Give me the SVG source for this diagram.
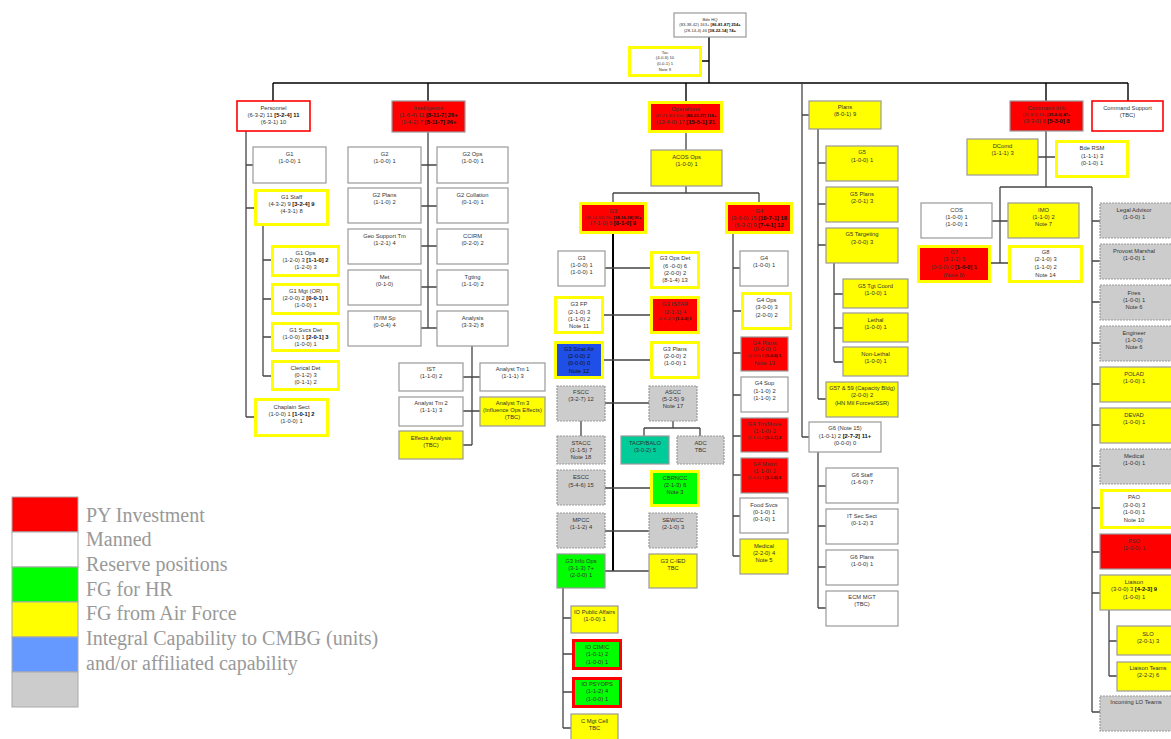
<svg xmlns="http://www.w3.org/2000/svg" width="1171" height="739" viewBox="0 0 1171 739">
<style>
text{font-family:"Liberation Sans",Arial,sans-serif;font-size:5.8px;fill:#333;text-anchor:middle}
.t{font-size:4.2px}
.k{font-weight:bold;fill:#111}
.wg{fill:#fff;stroke:#999;stroke-width:1.2}
.yg{fill:#ff0;stroke:#999;stroke-width:1.2}
.wy{fill:#fff;stroke:#ff0;stroke-width:3}
.ry{fill:#f00;stroke:#ff0;stroke-width:3}
.rg{fill:#f00;stroke:#999;stroke-width:1.2}
.wr{fill:#fff;stroke:#f00;stroke-width:1.6}
.gd{fill:#ccc;stroke:#999;stroke-width:1.2;stroke-dasharray:2 1}
.gy{fill:#0f0;stroke:#ff0;stroke-width:3}
.gg{fill:#0f0;stroke:#999;stroke-width:1.2}
.gr{fill:#0f0;stroke:#f00;stroke-width:3}
.by{fill:#1f4fe6;stroke:#ff0;stroke-width:3}
.tg{fill:#00cc99;stroke:#999;stroke-width:1.2}
.c path{stroke:#444;stroke-width:1.3;fill:none}
.c path.th{stroke:#000;stroke-width:2}
.c path.bar{stroke:#000;stroke-width:1.4}
.sw{stroke:#aaa;stroke-width:1}
.leg{font-family:"Liberation Serif","Times New Roman",serif;font-size:20px;fill:#999;text-anchor:start}
</style>

<!-- connectors -->
<g class="c" id="connectors">
<path class="bar" d="M709 37V83M702 61H709M273 83H1128M273 83V101M428 83V101M686 83V101M1046 83V101M1128 83V101"/>
<path d="M802 83V437"/>
<!-- personnel -->
<path d="M246 131V417M246 165H253M246 208H254M246 417H254M263 226V376M263 260H271M263 299H271M263 337H271M263 376H271"/>
<!-- intelligence -->
<path d="M428 132V328M421 165H437M421 206H437M421 246H437M421 287H437M421 328H437M472 346V445M463 377H480M463 411H480M463 445H472"/>
<!-- operations -->
<path d="M686 133V150M686 186V193M613 193H759M613 193V202M759 193V202"/>
<path class="th" d="M613 234V571"/>
<path d="M605 268H650M604 315H650M604 360H650M605 403H649M605 488H650M605 531H649M605 571H649"/>
<path d="M581 421V436M673 421V428M644 428H700M644 428V436M700 428V436"/>
<path d="M563 588V728M563 618H571M563 654H572M563 692H572M563 728H571"/>
<path d="M733 234V556M733 268H740M733 311H741M733 353H741M733 395H741M733 436H741M733 475H741M733 516H740M733 556H740"/>
<!-- plans / G6 -->
<path d="M802 115H809M802 437H809M818 129V399M818 163H826M818 204H826M818 245H826M818 399H826M834 263V362M834 294H843M834 328H843M834 362H843M818 452V608M818 486H826M818 526H826M818 567H826M818 608H826"/>
<!-- command info -->
<path d="M1046 131V187M1038 157H1055M1000 187H1092M1000 187V263M992 221H1008M991 263H1008M1092 187V712M1092 221H1100M1092 261H1100M1092 302H1100M1092 343H1100M1092 384H1100M1092 425H1100M1092 466H1100M1092 508H1100M1092 552H1100M1092 593H1100M1092 712H1100M1109 610V676M1109 641H1117M1109 676H1117"/>
</g>

<!-- top -->
<g id="bde-hq"><rect class="wg" x="674" y="13" width="72" height="24"/>
<text class="t" x="710" y="20.5">Bde HQ</text>
<text class="t" x="710" y="26">(83-38-42) 163+ <tspan class="k">[86-81-87] 254+</tspan></text>
<text class="t" x="710" y="31.5">(28-14-4) 46 <tspan class="k">[38-22-14] 74+</tspan></text></g>
<g id="tac"><rect class="wy" x="629.5" y="47.5" width="71" height="28"/>
<text class="t" x="665" y="53.5">Tac</text><text class="t" x="665" y="59">(4-0-6) 10</text><text class="t" x="665" y="64.5">(0-0-1) 1</text><text class="t" x="665" y="71">Note 9</text></g>

<!-- personnel -->
<g id="personnel"><rect class="wr" x="237" y="101" width="73" height="30"/>
<text x="273.5" y="110">Personnel</text><text x="273.5" y="117">(6-3-2) 11 <tspan class="k">[5-2-4] 11</tspan></text><text x="273.5" y="124">(6-3-1) 10</text></g>
<g id="g1"><rect class="wg" x="253" y="147" width="73" height="36"/>
<text x="289.5" y="156">G1</text><text x="289.5" y="163">(1-0-0) 1</text></g>
<g id="g1-staff"><rect class="wy" x="255.5" y="190.5" width="72" height="34"/>
<text x="291.5" y="199">G1 Staff</text><text x="291.5" y="206">(4-3-2) 9 <tspan class="k">[3-2-4] 9</tspan></text><text x="291.5" y="213">(4-3-1) 8</text></g>
<g id="g1-ops"><rect class="wy" x="272.5" y="246.5" width="66" height="29"/>
<text x="305.5" y="255">G1 Ops</text><text x="305.5" y="262">(1-2-0) 3 <tspan class="k">[1-1-0] 2</tspan></text><text x="305.5" y="269">(1-2-0) 3</text></g>
<g id="g1-mgt"><rect class="wy" x="272.5" y="284.5" width="66" height="29"/>
<text x="305.5" y="293">G1 Mgt (OR)</text><text x="305.5" y="300">(2-0-0) 2 <tspan class="k">[0-0-1] 1</tspan></text><text x="305.5" y="307">(1-0-0) 1</text></g>
<g id="g1-svcs"><rect class="wy" x="272.5" y="323.5" width="66" height="27"/>
<text x="305.5" y="332">G1 Svcs Det</text><text x="305.5" y="339">(1-0-0) 1 <tspan class="k">[2-0-1] 3</tspan></text><text x="305.5" y="346">(1-0-0) 1</text></g>
<g id="clerical"><rect class="wy" x="272.5" y="361.5" width="66" height="28"/>
<text x="305.5" y="370">Clerical Det</text><text x="305.5" y="377">(0-1-2) 3</text><text x="305.5" y="384">(0-1-1) 2</text></g>
<g id="chaplain"><rect class="wy" x="255.5" y="399.5" width="72" height="36"/>
<text x="291.5" y="409">Chaplain Sect</text><text x="291.5" y="416">(1-0-0) 1 <tspan class="k">[1-0-1] 2</tspan></text><text x="291.5" y="423">(1-0-0) 1</text></g>

<!-- intelligence -->
<g id="intelligence"><rect class="rg" x="392" y="101" width="73" height="31"/>
<text x="428.5" y="110">Intelligence</text><text x="428.5" y="117">(1-6-4) 11 <tspan class="k">[8-11-7] 26+</tspan></text><text x="428.5" y="124">(1-4-2) 7 <tspan class="k">[8-11-7] 26+</tspan></text></g>
<g id="g2"><rect class="wg" x="348" y="147" width="73" height="36"/><text x="384.5" y="156">G2</text><text x="384.5" y="163">(1-0-0) 1</text></g>
<g id="g2-ops"><rect class="wg" x="437" y="147" width="71" height="36"/><text x="472.5" y="156">G2 Ops</text><text x="472.5" y="163">(1-0-0) 1</text></g>
<g id="g2-plans"><rect class="wg" x="348" y="188" width="73" height="35"/><text x="384.5" y="197">G2 Plans</text><text x="384.5" y="204">(1-1-0) 2</text></g>
<g id="g2-collation"><rect class="wg" x="437" y="188" width="71" height="35"/><text x="472.5" y="197">G2 Collation</text><text x="472.5" y="204">(0-1-0) 1</text></g>
<g id="geo"><rect class="wg" x="348" y="229" width="73" height="35"/><text x="384.5" y="238">Geo Support Tm</text><text x="384.5" y="245">(1-2-1) 4</text></g>
<g id="ccirm"><rect class="wg" x="437" y="229" width="71" height="35"/><text x="472.5" y="238">CCIRM</text><text x="472.5" y="245">(0-2-0) 2</text></g>
<g id="met"><rect class="wg" x="348" y="270" width="73" height="35"/><text x="384.5" y="279">Met</text><text x="384.5" y="286">(0-1-0)</text></g>
<g id="tgting"><rect class="wg" x="437" y="270" width="71" height="35"/><text x="472.5" y="279">Tgting</text><text x="472.5" y="286">(1-1-0) 2</text></g>
<g id="itim"><rect class="wg" x="348" y="311" width="73" height="35"/><text x="384.5" y="320">IT/IM Sp</text><text x="384.5" y="327">(0-0-4) 4</text></g>
<g id="analysis"><rect class="wg" x="437" y="311" width="71" height="35"/><text x="472.5" y="320">Analysis</text><text x="472.5" y="327">(3-3-2) 8</text></g>
<g id="ist"><rect class="wg" x="399" y="363" width="64" height="28"/><text x="431" y="371">IST</text><text x="431" y="378">(1-1-0) 2</text></g>
<g id="analyst-tm1"><rect class="wg" x="480" y="363" width="65" height="28"/><text x="512.5" y="371">Analyst Tm 1</text><text x="512.5" y="378">(1-1-1) 3</text></g>
<g id="analyst-tm2"><rect class="wg" x="399" y="397" width="64" height="29"/><text x="431" y="405">Analyst Tm 2</text><text x="431" y="412">(1-1-1) 3</text></g>
<g id="analyst-tm3"><rect class="yg" x="480" y="397" width="65" height="29"/><text x="512.5" y="405">Analyst Tm 3</text><text x="512.5" y="412">(Influence Ops Effects)</text><text x="512.5" y="419">(TBC)</text></g>
<g id="effects"><rect class="yg" x="399" y="431" width="64" height="28"/><text x="431" y="440">Effects Analysis</text><text x="431" y="447">(TBC)</text></g>

<!-- operations -->
<g id="operations"><rect class="ry" x="649.5" y="102.5" width="72" height="29"/>
<text x="685.5" y="111">Operations</text><text class="t" x="685.5" y="116.5">(47-21-30) 100+ <tspan class="k">[80-23-37] 119+</tspan></text><text x="685.5" y="124">(13-4-0) 17 <tspan class="k">[15-5-1] 21</tspan></text></g>
<g id="acos-ops"><rect class="yg" x="651" y="150" width="71" height="36"/><text x="686.5" y="159">ACOS Ops</text><text x="686.5" y="166">(1-0-0) 1</text></g>
<g id="g3-branch"><rect class="ry" x="580.5" y="203.5" width="65" height="29"/>
<text x="613" y="213">G3</text><text class="t" x="613" y="218.5">(32-14-30) 76+ <tspan class="k">[38-16-38] 91+</tspan></text><text x="613" y="225">(7-1-0) 8 <tspan class="k">[8-1-0] 9</tspan></text></g>
<g id="g4-branch"><rect class="ry" x="726.5" y="203.5" width="65" height="29"/>
<text x="759" y="213">G4</text><text x="759" y="220">(9-6-0) 15 <tspan class="k">[10-7-1] 18</tspan></text><text x="759" y="227">(6-3-0) 9 <tspan class="k">[7-4-1] 12</tspan></text></g>

<g id="g3"><rect class="wg" x="558" y="251" width="47" height="35"/><text x="581.5" y="260">G3</text><text x="581.5" y="267">(1-0-0) 1</text><text x="581.5" y="274">(1-0-0) 1</text></g>
<g id="g3-ops-det"><rect class="wy" x="651.5" y="252.5" width="47" height="35"/><text x="675" y="260">G3 Ops Det</text><text x="675" y="267.5">(6 -0-0) 6</text><text x="675" y="274.5">(2-0-0) 2</text><text x="675" y="281.5">(8-1-4) 13</text></g>
<g id="g3-fp"><rect class="wy" x="555.5" y="297.5" width="47" height="35"/><text x="579" y="306">G3 FP</text><text x="579" y="314">(2-1-0) 3</text><text x="579" y="321">(1-1-0) 2</text><text x="579" y="328">Note 11</text></g>
<g id="g3-istar"><rect class="ry" x="651.5" y="297.5" width="47" height="35"/><text x="675" y="306">G3 ISTAR</text><text x="675" y="314">(2-1-1) 4</text><text class="t" x="675" y="319.5">(0-0-0) 0 <tspan class="k">[1-0-0] 1</tspan></text></g>
<g id="g3-strat-air"><rect class="by" x="555.5" y="342.5" width="47" height="35"/><text x="579" y="351" style="fill:#112">G3 Strat Air</text><text x="579" y="358" style="fill:#112">(2-0-0) 2</text><text x="579" y="365" style="fill:#112">(0-0-0) 0</text><text x="579" y="373" style="fill:#112">Note 12</text></g>
<g id="g3-plans"><rect class="wy" x="651.5" y="342.5" width="47" height="35"/><text x="675" y="351">G3 Plans</text><text x="675" y="358">(2-0-0) 2</text><text x="675" y="365">(1-0-0) 1</text></g>
<g id="fscc"><rect class="gd" x="557" y="386" width="48" height="35"/><text x="581" y="394">FSCC</text><text x="581" y="401">(3-2-7) 12</text></g>
<g id="ascc"><rect class="gd" x="649" y="386" width="48" height="35"/><text x="673" y="394">ASCC</text><text x="673" y="401">(5-2-5) 9</text><text x="673" y="408">Note 17</text></g>
<g id="stacc"><rect class="gd" x="557" y="436" width="48" height="28"/><text x="581" y="445">STACC</text><text x="581" y="452">(1-1-5) 7</text><text x="581" y="459">Note 18</text></g>
<g id="tacp"><rect class="tg" x="621" y="436" width="48" height="28"/><text x="645" y="445">TACP/BALO</text><text x="645" y="452">(3-0-2) 5</text></g>
<g id="adc"><rect class="gd" x="677" y="436" width="47" height="28"/><text x="700.5" y="445">ADC</text><text x="700.5" y="452">TBC</text></g>
<g id="escc"><rect class="gd" x="557" y="470" width="48" height="35"/><text x="581" y="479">ESCC</text><text x="581" y="487">(5-4-6) 15</text></g>
<g id="cbrncc"><rect class="gy" x="651.5" y="471.5" width="47" height="34"/><text x="675" y="480">CBRNCC</text><text x="675" y="487">(2-1-3) 6</text><text x="675" y="494">Note 3</text></g>
<g id="mpcc"><rect class="gd" x="557" y="513" width="48" height="35"/><text x="581" y="522">MPCC</text><text x="581" y="529">(1-1-2) 4</text></g>
<g id="sewcc"><rect class="gd" x="649" y="513" width="48" height="35"/><text x="673" y="522">SEWCC</text><text x="673" y="529">(2-1-0) 3</text></g>
<g id="g3-info-ops"><rect class="gg" x="557" y="554" width="48" height="34"/><text x="581" y="563">G3 Info Ops</text><text x="581" y="570">(3-1-3) 7+</text><text x="581" y="577">(2-0-0) 1</text></g>
<g id="g3-cied"><rect class="yg" x="649" y="554" width="48" height="34"/><text x="673" y="563">G3 C-IED</text><text x="673" y="570">TBC</text></g>
<g id="io-pa"><rect class="yg" x="571" y="606" width="47" height="27"/><text x="594.5" y="614">IO Public Affairs</text><text x="594.5" y="621">(1-0-0) 1</text></g>
<g id="io-cimic"><rect class="gr" x="573.5" y="640.5" width="47" height="28"/><text x="597" y="649">IO CIMIC</text><text x="597" y="656">(1-0-1) 2</text><text x="597" y="664">(1-0-0) 1</text></g>
<g id="io-psyops"><rect class="gr" x="573.5" y="678.5" width="47" height="28"/><text x="597" y="686">IO PSYOPS</text><text x="597" y="693">(1-1-2) 4</text><text x="597" y="701">(1-0-0) 1</text></g>
<g id="c-mgt-cell"><rect class="yg" x="571" y="714" width="47" height="30"/><text x="594.5" y="723">C Mgt Cell</text><text x="594.5" y="730">TBC</text></g>

<g id="g4"><rect class="wg" x="740" y="251" width="48" height="35"/><text x="764" y="260">G4</text><text x="764" y="267">(1-0-0) 1</text></g>
<g id="g4-ops"><rect class="wy" x="742.5" y="293.5" width="48" height="35"/><text x="766.5" y="302">G4 Ops</text><text x="766.5" y="309">(3-0-0) 3</text><text x="766.5" y="317">(2-0-0) 2</text></g>
<g id="g4-plans"><rect class="rg" x="741" y="337" width="47" height="34"/><text x="764.5" y="345">G4 Plans</text><text x="764.5" y="351">(0-0-0) 0</text><text class="t" x="764.5" y="357">(0-0-0) 0 <tspan class="k">[1-0-0] 1</tspan></text><text x="764.5" y="365">Note 13</text></g>
<g id="g4-sup"><rect class="wg" x="741" y="377" width="47" height="35"/><text x="764.5" y="385">G4 Sup</text><text x="764.5" y="393">(1-1-0) 2</text><text x="764.5" y="400">(1-1-0) 2</text></g>
<g id="g4-trn"><rect class="rg" x="741" y="418" width="47" height="34"/><text x="764.5" y="426">G4 Trn/Move</text><text x="764.5" y="433">(1-1-0) 2</text><text class="t" x="764.5" y="438.5">(1-1-0) 2 <tspan class="k">[1-1-1] 3</tspan></text></g>
<g id="g4-maint"><rect class="rg" x="741" y="458" width="47" height="35"/><text x="764.5" y="466">G4 Maint</text><text x="764.5" y="473">(1-1-0) 2</text><text class="t" x="764.5" y="478.5">(1-0-0) 1 <tspan class="k">[1-1-0] 2</tspan></text></g>
<g id="food-svcs"><rect class="wg" x="740" y="498" width="48" height="35"/><text x="764" y="507">Food Svcs</text><text x="764" y="514">(0-1-0) 1</text><text x="764" y="521">(0-1-0) 1</text></g>
<g id="g4-medical"><rect class="yg" x="740" y="539" width="48" height="35"/><text x="764" y="548">Medical</text><text x="764" y="555">(2-2-0) 4</text><text x="764" y="562">Note 5</text></g>

<!-- plans -->
<g id="plans"><rect class="yg" x="809" y="101" width="72" height="28"/><text x="845" y="109">Plans</text><text x="845" y="116">(8-0-1) 9</text></g>
<g id="g5"><rect class="yg" x="826" y="146" width="72" height="35"/><text x="862" y="154">G5</text><text x="862" y="162">(1-0-0) 1</text></g>
<g id="g5-plans"><rect class="yg" x="826" y="187" width="72" height="35"/><text x="862" y="196">G5 Plans</text><text x="862" y="203">(2-0-1) 3</text></g>
<g id="g5-targeting"><rect class="yg" x="826" y="228" width="72" height="35"/><text x="862" y="236">G5 Targeting</text><text x="862" y="244">(3-0-0) 3</text></g>
<g id="g5-tgt-coord"><rect class="yg" x="843" y="279" width="65" height="29"/><text x="875.5" y="288">G5 Tgt Coord</text><text x="875.5" y="295">(1-0-0) 1</text></g>
<g id="lethal"><rect class="yg" x="843" y="313" width="65" height="29"/><text x="875.5" y="322">Lethal</text><text x="875.5" y="329">(1-0-0) 1</text></g>
<g id="non-lethal"><rect class="yg" x="843" y="347" width="65" height="29"/><text x="875.5" y="356">Non-Lethal</text><text x="875.5" y="363">(1-0-0) 1</text></g>
<g id="g57-59"><rect class="yg" x="826" y="382" width="72" height="35"/><text x="862" y="390">G57 &amp; 59 (Capacity Bldg)</text><text x="862" y="397">(2-0-0) 2</text><text x="862" y="405">(HN Mil Forces/SSR)</text></g>
<g id="g6"><rect class="wg" x="809" y="422" width="72" height="30"/><text x="845" y="430">G6 (Note 15)</text><text x="845" y="438">(1-0-1) 2 <tspan class="k">[2-7-2] 11+</tspan></text><text x="845" y="445">(0-0-0) 0</text></g>
<g id="g6-staff"><rect class="wg" x="826" y="468" width="72" height="35"/><text x="862" y="477">G6 Staff</text><text x="862" y="484">(1-6-0) 7</text></g>
<g id="it-sec"><rect class="wg" x="826" y="509" width="72" height="35"/><text x="862" y="518">IT Sec Sect</text><text x="862" y="525">(0-1-2) 3</text></g>
<g id="g6-plans"><rect class="wg" x="826" y="550" width="72" height="35"/><text x="862" y="559">G6 Plans</text><text x="862" y="566">(1-0-0) 1</text></g>
<g id="ecm"><rect class="wg" x="826" y="591" width="72" height="35"/><text x="862" y="599">ECM MGT</text><text x="862" y="606">(TBC)</text></g>

<!-- command -->
<g id="command-info"><rect class="rg" x="1010" y="101" width="73" height="30"/><text x="1046.5" y="110">Command Info</text><text class="t" x="1046.5" y="115.5">(31-8-5) 44+ <tspan class="k">[33-8-6] 47+</tspan></text><text x="1046.5" y="123">(3-3-0) 6 <tspan class="k">[5-3-0] 8</tspan></text></g>
<g id="command-support"><rect class="wr" x="1092" y="101" width="71" height="30"/><text x="1127.5" y="110">Command Support</text><text x="1127.5" y="117">(TBC)</text></g>
<g id="dcomd"><rect class="yg" x="967" y="139" width="71" height="36"/><text x="1002.5" y="148">DComd</text><text x="1002.5" y="155">(1-1-1) 3</text></g>
<g id="bde-rsm"><rect class="wy" x="1056.5" y="141.5" width="71" height="35"/><text x="1092" y="150">Bde RSM</text><text x="1092" y="158">(1-1-1) 3</text><text x="1092" y="165">(0-1-0) 1</text></g>
<g id="cos"><rect class="wg" x="921" y="203" width="71" height="35"/><text x="956.5" y="212">COS</text><text x="956.5" y="219">(1-0-0) 1</text><text x="956.5" y="226">(1-0-0) 1</text></g>
<g id="imo"><rect class="yg" x="1008" y="203" width="71" height="35"/><text x="1043.5" y="212">IMO</text><text x="1043.5" y="219">(1-1-0) 2</text><text x="1043.5" y="226">Note 7</text></g>
<g id="g7"><rect class="ry" x="918.5" y="246.5" width="71" height="35"/><text x="954" y="254">G7</text><text x="954" y="261">(3-1-1) 5</text><text x="954" y="269">(0-0-0) 0 <tspan class="k">[1-0-0] 1</tspan></text><text x="954" y="277">(Note 8)</text></g>
<g id="g8"><rect class="wy" x="1009.5" y="246.5" width="72" height="35"/><text x="1045.5" y="254">G8</text><text x="1045.5" y="261">(2-1-0) 3</text><text x="1045.5" y="269">(1-1-0) 2</text><text x="1045.5" y="277">Note 14</text></g>

<!-- right-hand staff column, running off the page edge -->
<g id="legal-advisor"><rect class="gd" x="1100" y="203" width="76" height="35"/><text x="1134" y="212">Legal Advisor</text><text x="1134" y="219">(1-0-0) 1</text></g>
<g id="provost"><rect class="gd" x="1100" y="244" width="76" height="35"/><text x="1134" y="253">Provost Marshal</text><text x="1134" y="260">(1-0-0) 1</text></g>
<g id="fires"><rect class="gd" x="1100" y="285" width="76" height="35"/><text x="1134" y="295">Fires</text><text x="1134" y="302">(1-0-0) 1</text><text x="1134" y="309">Note 6</text></g>
<g id="engineer"><rect class="gd" x="1100" y="326" width="76" height="35"/><text x="1134" y="335">Engineer</text><text x="1134" y="342">(1-0-0)</text><text x="1134" y="349">Note 6</text></g>
<g id="polad"><rect class="yg" x="1100" y="367" width="76" height="35"/><text x="1134" y="376">POLAD</text><text x="1134" y="383">(1-0-0) 1</text></g>
<g id="devad"><rect class="yg" x="1100" y="408" width="76" height="35"/><text x="1134" y="417">DEVAD</text><text x="1134" y="424">(1-0-0) 1</text></g>
<g id="medical"><rect class="gd" x="1100" y="449" width="76" height="35"/><text x="1134" y="458">Medical</text><text x="1134" y="465">(1-0-0) 1</text></g>
<g id="pao"><rect class="wy" x="1101.5" y="490.5" width="74" height="37"/><text x="1134" y="499">PAO</text><text x="1134" y="507">(3-0-0) 3</text><text x="1134" y="514">(1-0-0) 1</text><text x="1134" y="522">Note 10</text></g>
<g id="pso"><rect class="rg" x="1100" y="534" width="76" height="35"/><text x="1134" y="543">PSO</text><text x="1134" y="550">(1-0-0) 1</text></g>
<g id="liaison"><rect class="yg" x="1100" y="575" width="76" height="35"/><text x="1134" y="584">Liaison</text><text x="1134" y="591">(3-0-0) 3 <tspan class="k">[4-2-3] 9</tspan></text><text x="1134" y="599">(1-0-0) 1</text></g>
<g id="slo"><rect class="yg" x="1117" y="626" width="62" height="29"/><text x="1148" y="636">SLO</text><text x="1148" y="643">(2-0-1) 3</text></g>
<g id="liaison-teams"><rect class="yg" x="1117" y="662" width="62" height="29"/><text x="1148" y="670">Liaison Teams</text><text x="1148" y="677">(2-2-2) 6</text></g>
<g id="incoming-lo"><rect class="gd" x="1100" y="696" width="76" height="35"/><text x="1136" y="704">Incoming LO Teams</text></g>

<!-- legend -->
<g id="legend">
<rect class="sw" x="12" y="497" width="66" height="35" fill="#ff0000"/>
<rect class="sw" x="12" y="532" width="66" height="35" fill="#ffffff"/>
<rect class="sw" x="12" y="567" width="66" height="35" fill="#00ff00"/>
<rect class="sw" x="12" y="602" width="66" height="35" fill="#ffff00"/>
<rect class="sw" x="12" y="637" width="66" height="35" fill="#6699ff"/>
<rect class="sw" x="12" y="672" width="66" height="35" fill="#cccccc"/>
<text class="leg" x="86" y="522">PY Investment</text>
<text class="leg" x="86" y="546">Manned</text>
<text class="leg" x="86" y="571">Reserve positions</text>
<text class="leg" x="86" y="596">FG for HR</text>
<text class="leg" x="86" y="620">FG from Air Force</text>
<text class="leg" x="86" y="645">Integral Capability to CMBG (units)</text>
<text class="leg" x="86" y="670">and/or affiliated capability</text>
</g>
</svg>
